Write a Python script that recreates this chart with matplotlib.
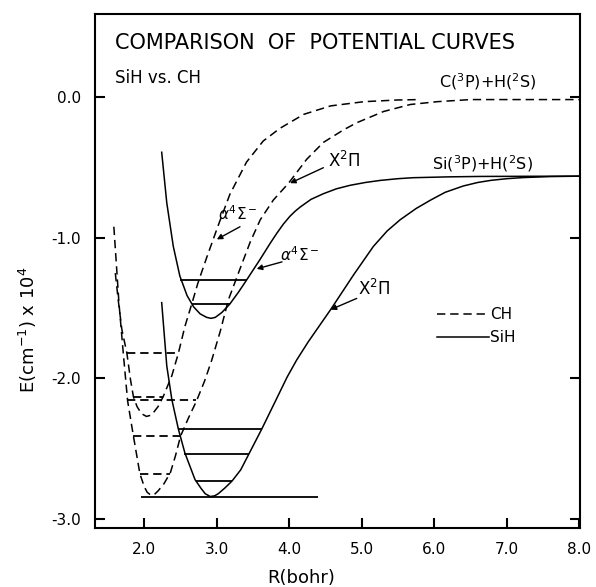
import matplotlib.pyplot as plt
from matplotlib.lines import Line2D

plt.rcParams["font.family"] = "DejaVu Sans"
plt.rcParams["mathtext.fontset"] = "dejavusans"
plt.rcParams["lines.scale_dashes"] = False

# potential curves, R in bohr, E in 10^4 cm^-1
sih_x_r = [2.24, 2.31, 2.38, 2.47, 2.56, 2.70, 2.78, 2.84, 2.91, 2.97, 3.02, 3.11, 3.21, 3.33,
           3.44, 3.62, 3.80, 3.97, 4.10, 4.26, 4.57, 4.89, 5.16, 5.35, 5.53, 5.75, 5.95, 6.15,
           6.40, 6.60, 6.78, 7.00, 7.23, 7.60, 8.00]
sih_x_e = [-1.46, -1.91, -2.15, -2.36, -2.53, -2.72, -2.78, -2.82, -2.84, -2.835, -2.82, -2.78, -2.73, -2.65,
           -2.54, -2.36, -2.17, -1.99, -1.87, -1.74, -1.51, -1.26, -1.06, -0.95, -0.87, -0.79, -0.73, -0.675,
           -0.63, -0.605, -0.59, -0.578, -0.57, -0.563, -0.56]

sih_a_r = [2.24, 2.31, 2.40, 2.49, 2.59, 2.68, 2.77, 2.86, 2.92, 2.98, 3.07, 3.18, 3.30, 3.41,
           3.60, 3.74, 3.83, 3.92, 4.01, 4.08, 4.15, 4.30, 4.47, 4.65, 4.84, 5.05, 5.26, 5.50,
           5.71, 6.20, 6.64, 8.00]
sih_a_e = [-0.39, -0.75, -1.06, -1.27, -1.41, -1.49, -1.54, -1.565, -1.572, -1.565, -1.53, -1.47, -1.385, -1.30,
           -1.15, -1.035, -0.965, -0.90, -0.845, -0.81, -0.78, -0.725, -0.685, -0.65, -0.625, -0.605, -0.59, -0.578,
           -0.571, -0.565, -0.562, -0.56]

ch_x_r = [1.58, 1.61, 1.65, 1.71, 1.77, 1.85, 1.94, 2.00, 2.04, 2.09, 2.14, 2.19, 2.27, 2.36,
          2.43, 2.50, 2.61, 2.72, 2.83, 2.93, 3.05, 3.16, 3.32, 3.46, 3.60, 3.78, 3.99,
          4.24, 4.47, 4.75, 4.93, 5.30, 5.67, 6.04, 6.50, 8.00]
ch_x_e = [-0.92, -1.15, -1.46, -1.82, -2.16, -2.41, -2.68, -2.77, -2.81, -2.83, -2.825, -2.80, -2.75, -2.67,
          -2.55, -2.41, -2.28, -2.16, -2.02, -1.87, -1.66, -1.44, -1.22, -1.03, -0.87, -0.73, -0.61,
          -0.44, -0.32, -0.23, -0.18, -0.10, -0.05, -0.03, -0.015, -0.015]

ch_a_r = [1.60, 1.64, 1.69, 1.76, 1.81, 1.85, 1.90, 1.96, 2.03, 2.10, 2.19, 2.26, 2.38,
          2.47, 2.56, 2.66, 2.74, 2.86, 3.02, 3.18, 3.41, 3.64, 3.87, 4.20, 4.57, 5.03, 5.49, 5.80]
ch_a_e = [-1.25, -1.44, -1.65, -1.82, -2.01, -2.13, -2.20, -2.25, -2.27, -2.26, -2.20, -2.13, -1.98,
          -1.82, -1.63, -1.46, -1.32, -1.14, -0.91, -0.69, -0.46, -0.31, -0.22, -0.12, -0.06, -0.03, -0.018, -0.015]

# vibrational levels: energy, left R, right R
sih_lev_e = [-2.36, -2.54, -2.73, -2.84, -1.30, -1.47]
sih_lev_lo = [2.47, 2.55, 2.71, 1.96, 2.49, 2.66]
sih_lev_hi = [3.63, 3.45, 3.21, 4.40, 3.41, 3.18]

ch_lev_e = [-2.68, -2.41, -2.155, -2.13, -1.82]
ch_lev_lo = [1.94, 1.85, 1.765, 1.85, 1.76]
ch_lev_hi = [2.36, 2.49, 2.72, 2.26, 2.47]

x_ticks = [2.0, 3.0, 4.0, 5.0, 6.0, 7.0, 8.0]
y_ticks = [0.0, -1.0, -2.0, -3.0]

DASH = (0, (6, 3.5))
LW = 1.1

fig = plt.figure(figsize=(5.96, 5.87), dpi=100)
ax = fig.add_axes([95 / 596, 59 / 587, 485 / 596, 514 / 587])

ax.plot(sih_x_r, sih_x_e, color="k", lw=LW)
ax.plot(sih_a_r, sih_a_e, color="k", lw=LW)
ax.plot(ch_x_r, ch_x_e, color="k", lw=LW, ls=DASH)
ax.plot(ch_a_r, ch_a_e, color="k", lw=LW, ls=DASH)

ax.hlines(sih_lev_e, sih_lev_lo, sih_lev_hi, color="k", lw=1.3)
ax.hlines(ch_lev_e, ch_lev_lo, ch_lev_hi, color="k", lw=1.3, linestyles=[DASH])

ax.set_xlim(1.32, 8.01)
ax.set_ylim(-3.064, 0.594)
ax.set_xticks(x_ticks)
ax.set_xticklabels([f"{v:.1f}" for v in x_ticks])
ax.set_yticks(y_ticks)
ax.set_yticklabels(["0.0", "-1.0", "-2.0", "-3.0"])
ax.tick_params(direction="in", length=7, width=1.5, right=True, top=False,
               labelsize=11, pad=10)
for s in ax.spines.values():
    s.set_linewidth(1.5)

# text
ax.text(1.60, 0.39, "COMPARISON  OF  POTENTIAL CURVES", fontsize=15, ha="left", va="center")
ax.text(1.60, 0.14, "SiH vs. CH", fontsize=12, ha="left", va="center")
ax.text(6.06, 0.11, r"C($^3$P)+H($^2$S)", fontsize=11.5, ha="left", va="center")
ax.text(5.97, -0.47, r"Si($^3$P)+H($^2$S)", fontsize=11.5, ha="left", va="center")

arrow = dict(arrowstyle="-|>", color="k", lw=1.0, mutation_scale=8, shrinkA=0, shrinkB=0)
ax.text(4.54, -0.455, r"X$^2\Pi$", fontsize=12, ha="left", va="center")
ax.annotate("", xy=(4.01, -0.61), xytext=(4.47, -0.50), arrowprops=arrow)
ax.text(3.02, -0.83, r"$\alpha^4\Sigma^-$", fontsize=11, ha="left", va="center")
ax.annotate("", xy=(3.00, -1.01), xytext=(3.32, -0.92), arrowprops=arrow)
ax.text(3.87, -1.12, r"$\alpha^4\Sigma^-$", fontsize=11, ha="left", va="center")
ax.annotate("", xy=(3.55, -1.22), xytext=(3.90, -1.17), arrowprops=arrow)
ax.text(4.95, -1.36, r"X$^2\Pi$", fontsize=12, ha="left", va="center")
ax.annotate("", xy=(4.57, -1.51), xytext=(4.93, -1.43), arrowprops=arrow)

handles = [Line2D([], [], color="k", lw=LW, ls=DASH),
           Line2D([], [], color="k", lw=LW)]
ax.legend(handles, ["CH", "SiH"], loc="upper left", bbox_to_anchor=(0.705, 0.43),
          frameon=False, fontsize=11, handlelength=3.4, handletextpad=0.1,
          labelspacing=0.55, borderpad=0, borderaxespad=0)

fig.text(28 / 596, 1 - 330 / 587, r"E(cm$^{-1}$) x 10$^4$", rotation=90,
         fontsize=13, ha="center", va="center")
fig.text(301 / 596, 1 - 578 / 587, "R(bohr)", fontsize=13, ha="center", va="center")

fig.savefig("out.png", dpi=100)
